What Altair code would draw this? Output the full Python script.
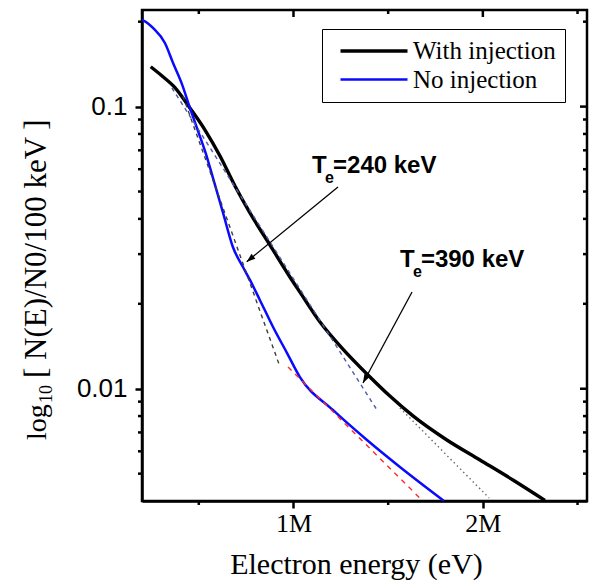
import altair as alt
import pandas as pd

# ---------------- data ----------------
# "With injection" (black curve): energy in MeV, N(E)/N0/100 keV
with_x = [0.246, 0.306, 0.374, 0.453, 0.533, 0.612, 0.691, 0.770, 0.876, 0.981,
          1.034, 1.140, 1.261, 1.388, 1.509, 1.631, 1.810, 1.985, 2.159, 2.328]
with_y = [0.1384, 0.1284, 0.1168, 0.0989, 0.0826, 0.0668, 0.0523, 0.0420, 0.0323, 0.0249,
          0.0220, 0.01724, 0.01382, 0.01128, 0.00942, 0.00801, 0.00658, 0.00559, 0.00475, 0.00402]

# "No injection" (blue curve)
no_x = [0.200, 0.230, 0.258, 0.321, 0.364, 0.411, 0.453, 0.496, 0.538, 0.575, 0.628, 0.680,
        0.733, 0.770, 0.823, 0.892, 0.966, 1.034, 1.208, 1.388, 1.562, 1.795]
no_y = [0.2028, 0.1975, 0.1900, 0.1680, 0.1427, 0.1202, 0.0989, 0.0819, 0.0679, 0.0558, 0.0420,
        0.0318, 0.0270, 0.0243, 0.0206, 0.01655, 0.01338, 0.01100, 0.00841, 0.00658, 0.00528,
        0.00400]

# exponential fit lines (end points)
fitA_x = [0.358, 1.441]; fitA_y = [0.1164, 0.00841]   # slate dashed along black curve
fitB_x = [0.416, 0.929]; fitB_y = [0.1090, 0.01194]   # grey dashed along blue curve
fitC_x = [0.971, 1.678]; fitC_y = [0.01194, 0.00403]  # red dashed along blue curve tail
fitD_x = [1.562, 2.033]; fitD_y = [0.00855, 0.00410]  # grey dotted along black curve tail

# annotation arrows: start -> tip
arrow1 = {"x": 1.235, "y": 0.0519, "x2": 0.753, "y2": 0.0282}
arrow2 = {"x": 1.626, "y": 0.02203, "x2": 1.367, "y2": 0.01048}

# annotation texts (anchor of the "T")
label_x = [1.098, 1.562]
label_y = [0.0582, 0.0270]
label_rest = ["=240 keV", "=390 keV"]

# y-axis title pieces: "log", subscript "10", rest
ytitle_parts = ["log", "10", "[ N(E)/N0/100 keV ]"]

series_names = ["With injection", "No injection"]
x_major = [1, 2]
x_minor = [0.5, 1.5, 2.5]
y_major = [0.1, 0.01]
y_minor = [0.005, 0.006, 0.007, 0.008, 0.009, 0.02, 0.03, 0.04, 0.05,
           0.06, 0.07, 0.08, 0.09, 0.2]

# ---------------- chart ----------------
W, H = 445, 491
SERIF = "Liberation Serif"
SANS = "Liberation Sans"

xscale = alt.Scale(domain=[0.2, 2.55], nice=False, zero=False)
yscale = alt.Scale(type="log", domain=[0.004, 0.22], nice=False)

xaxis = alt.Axis(
    values=x_major,
    labelExpr="datum.value + 'M'",
    tickSize=7, tickWidth=2.5, tickColor="black",
    domainColor="black", domainWidth=2.5, grid=False,
    labelFont=SERIF, labelFontSize=26, labelColor="black", labelPadding=2,
    labelBaseline="top", labelFlush=False,
    title="Electron energy (eV)", titleFont=SERIF, titleFontSize=30,
    titleFontWeight="normal", titleColor="black",
    titleX=214, titleY=72, titleBaseline="alphabetic",
)
yaxis = alt.Axis(
    values=y_major,
    labelExpr="datum.value > 0.05 ? '0.1' : '0.01'",
    tickSize=7, tickWidth=2.5, tickColor="black",
    domainColor="black", domainWidth=2.5, grid=False,
    labelFont=SANS, labelFontSize=26, labelColor="black", labelPadding=8,
    labelBaseline="middle", labelFlush=False,
    title=None,
)


def X(field):
    return alt.X(field, scale=xscale, axis=xaxis)


def Y(field):
    return alt.Y(field, scale=yscale, axis=yaxis)


curves = pd.DataFrame({
    "energy": with_x + no_x,
    "value": with_y + no_y,
    "series": [series_names[0]] * len(with_x) + [series_names[1]] * len(no_x),
    "idx": list(range(len(with_x))) + list(range(len(no_x))),
})

leg = alt.Legend(
    title=None, orient="none", legendX=180, legendY=19,
    symbolType="M-3,0H3", symbolSize=499, symbolOffset=30,
    labelFont=SERIF, labelFontSize=25, labelColor="black", labelBaseline="middle",
    labelOffset=26, labelLimit=400, rowPadding=3,
    strokeColor="black", fillColor="white", padding=9,
)

curve_layer = alt.Chart(curves).mark_line(clip=True, interpolate="monotone").encode(
    x=X("energy:Q"),
    y=Y("value:Q"),
    color=alt.Color("series:N", scale=alt.Scale(domain=series_names, range=["black", "#0a0aff"]),
                    legend=leg),
    strokeWidth=alt.StrokeWidth("series:N", scale=alt.Scale(domain=series_names, range=[3.4, 2.5]),
                                legend=leg),
    order="idx:Q",
)


def fit_layer(xs, ys, color, dash, width):
    df = pd.DataFrame({"energy": xs, "value": ys})
    return alt.Chart(df).mark_line(color=color, strokeDash=dash, strokeWidth=width, clip=True).encode(
        x=X("energy:Q"), y=Y("value:Q"),
    )


fits = [
    fit_layer(fitA_x, fitA_y, "#4a5aa8", [4, 4], 1.4),
    fit_layer(fitB_x, fitB_y, "#3c3c3c", [4, 4], 1.4),
    fit_layer(fitC_x, fitC_y, "#ff2a2a", [5, 5], 1.4),
    fit_layer(fitD_x, fitD_y, "#6a6a6a", [1.5, 3], 1.4),
]

ARROW = "M0,0L-0.36,1L0.36,1Z"


def arrow_layers(a, angle):
    df = pd.DataFrame([a])
    line = alt.Chart(df).mark_rule(color="black", strokeWidth=1.3).encode(
        x=X("x:Q"), y=Y("y:Q"), x2="x2:Q", y2="y2:Q",
    )
    head = alt.Chart(df).mark_point(shape=ARROW, filled=True, size=300, angle=angle,
                                    color="black", opacity=1).encode(
        x=X("x2:Q"), y=Y("y2:Q"),
    )
    return [line, head]


arrows = arrow_layers(arrow1, 230.7) + arrow_layers(arrow2, 208.3)

labels = pd.DataFrame({"energy": label_x, "value": label_y, "rest": label_rest})
lbase = alt.Chart(labels)
txt_T = lbase.mark_text(text="T", align="left", baseline="alphabetic", font=SANS,
                        fontSize=24, fontWeight="bold", color="black").encode(
    x=X("energy:Q"), y=Y("value:Q"))
txt_e = lbase.mark_text(text="e", align="left", baseline="alphabetic", font=SANS,
                        fontSize=16, fontWeight="bold", color="black", dx=13, dy=10).encode(
    x=X("energy:Q"), y=Y("value:Q"))
txt_r = lbase.mark_text(align="left", baseline="alphabetic", font=SANS,
                        fontSize=24, fontWeight="bold", color="black", dx=21).encode(
    x=X("energy:Q"), y=Y("value:Q"), text="rest:N")


# rotated y-axis title, built from pieces so "10" can be a subscript
def ytitle_piece(text, px, py, size):
    df = pd.DataFrame({"label": [text]})
    return alt.Chart(df).mark_text(angle=270, align="left", baseline="alphabetic", font=SERIF,
                                   fontSize=size, color="black").encode(
        x=alt.value(px), y=alt.value(py), text="label:N")


ytitle = [
    ytitle_piece(ytitle_parts[0], -96, 430, 28),
    ytitle_piece(ytitle_parts[1], -90, 393, 18),
    ytitle_piece(ytitle_parts[2], -96, 368, 31),
]


# minor / mirrored ticks drawn as rules on the frame
def xticks(vals, y0, y1):
    df = pd.DataFrame({"energy": vals})
    return alt.Chart(df).mark_rule(color="black", strokeWidth=2.5).encode(
        x=X("energy:Q"), y=alt.value(y0), y2=alt.value(y1))


def yticks(vals, x0, x1):
    df = pd.DataFrame({"value": vals})
    return alt.Chart(df).mark_rule(color="black", strokeWidth=2.5).encode(
        y=Y("value:Q"), x=alt.value(x0), x2=alt.value(x1))


frame = [
    xticks(x_minor, H, H + 4),          # bottom minor (outward)
    xticks(x_major, 0, 7),              # top major (inward)
    xticks(x_minor, 0, 4),              # top minor (inward)
    yticks(y_minor, 0, -4),             # left minor (outward)
    yticks(y_major, W, W - 7),          # right major
    yticks(y_minor, W, W - 4),          # right minor
]

chart = alt.layer(
    curve_layer, *fits, *arrows, txt_T, txt_e, txt_r, *ytitle, *frame
).properties(
    width=W, height=H,
    padding={"left": 134, "top": 2, "right": 2, "bottom": 79},
    autosize=alt.AutoSizeParams(type="none"),
    background="white",
).configure_view(stroke="black", strokeWidth=2.5)

chart.save("out.html", embed_options={"renderer": "svg", "actions": False})
